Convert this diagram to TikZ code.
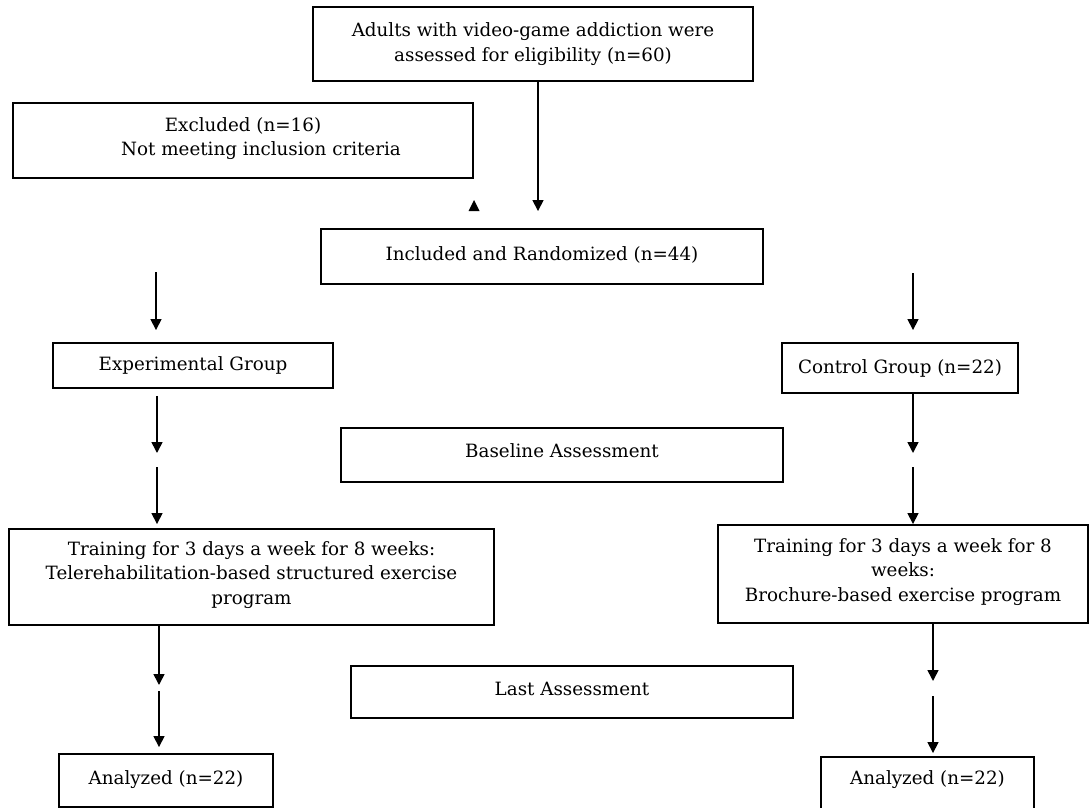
\documentclass[tikz,border=0pt]{standalone}
\usepackage{fontspec}
\setmainfont{DejaVu Serif}
\usetikzlibrary{arrows.meta}
\begin{document}
\begin{tikzpicture}[x=1pt,y=-1pt,
  box/.style={draw,line width=1.9pt,inner sep=0pt,align=center,
    font=\fontsize{18.3}{24.5}\selectfont},
  arr/.style={line width=1.6pt,-{Triangle[length=11pt,width=11pt]}}]
\useasboundingbox (0,0) rectangle (1090,808);

% boxes
\node[box,minimum width=440pt,minimum height=74pt] (top) at (533,44)
  {Adults with video-game addiction were\\assessed for eligibility (n=60)};
\node[box,minimum width=460pt,minimum height=75pt,text depth=8pt] (excl) at (243,140.5)
  {Excluded (n=16)\\\hspace*{36pt}Not meeting inclusion criteria};
\node[box,minimum width=442pt,minimum height=55pt,text depth=6pt] (incl) at (542,256.5)
  {Included and Randomized (n=44)};
\node[box,minimum width=280pt,minimum height=45pt] (exp) at (193,365.5)
  {Experimental Group};
\node[box,minimum width=236pt,minimum height=50pt] (ctrl) at (900,368)
  {Control Group (n=22)};
\node[box,minimum width=442pt,minimum height=54pt,text depth=8pt] (base) at (562,455)
  {Baseline Assessment};
\node[box,minimum width=485pt,minimum height=96pt,text depth=8pt] (trainL) at (251.5,577)
  {Training for 3 days a week for 8 weeks:\\Telerehabilitation-based structured exercise\\program};
\node[box,minimum width=370pt,minimum height=98pt,text depth=8pt] (trainR) at (903,574)
  {Training for 3 days a week for 8\\weeks:\\Brochure-based exercise program};
\node[box,minimum width=442pt,minimum height=52pt,text depth=6pt] (last) at (572,692)
  {Last Assessment};
\node[box,minimum width=214pt,minimum height=53pt,text depth=6pt] (anaL) at (166,780.5)
  {Analyzed (n=22)};
\node[box,minimum width=213pt,minimum height=55pt,text depth=14pt] (anaR) at (927.5,784.5)
  {Analyzed (n=22)};

% enrolment -> randomisation
\coordinate (t1) at (538,0);
\draw[arr,shorten >=17pt] (top.south -| t1) -- (incl.north -| t1);

% lone arrow tip beside the exclusion box
\coordinate (xtip) at (474,200);
\fill (xtip) -- ++(5.5,11) -- ++(-11,0) -- cycle;

% randomisation -> groups
\coordinate (sL) at (156,272);
\coordinate (sR) at (913,273);
\draw[arr,shorten >=12pt] (sL) -- (exp.north -| sL);
\draw[arr,shorten >=12pt] (sR) -- (ctrl.north -| sR);

% groups -> training (broken at the baseline level)
\coordinate (bL1) at (157,453);
\coordinate (bL2) at (157,467);
\coordinate (bR1) at (913,453);
\coordinate (bR2) at (913,467);
\draw[arr,shorten <=7pt] (exp.south -| bL1) -- (bL1);
\draw[arr,shorten >=4pt] (bL2) -- (trainL.north -| bL2);
\draw[arr] (ctrl.south -| bR1) -- (bR1);
\draw[arr] (bR2) -- (trainR.north -| bR2);

% training -> analysis (broken at the last assessment level)
\coordinate (cL1) at (159,685);
\coordinate (cL2) at (159,691);
\coordinate (cR1) at (933,681);
\coordinate (cR2) at (933,696);
\draw[arr] (trainL.south -| cL1) -- (cL1);
\draw[arr,shorten >=6pt] (cL2) -- (anaL.north -| cL2);
\draw[arr] (trainR.south -| cR1) -- (cR1);
\draw[arr,shorten >=3pt] (cR2) -- (anaR.north -| cR2);
\end{tikzpicture}
\end{document}
